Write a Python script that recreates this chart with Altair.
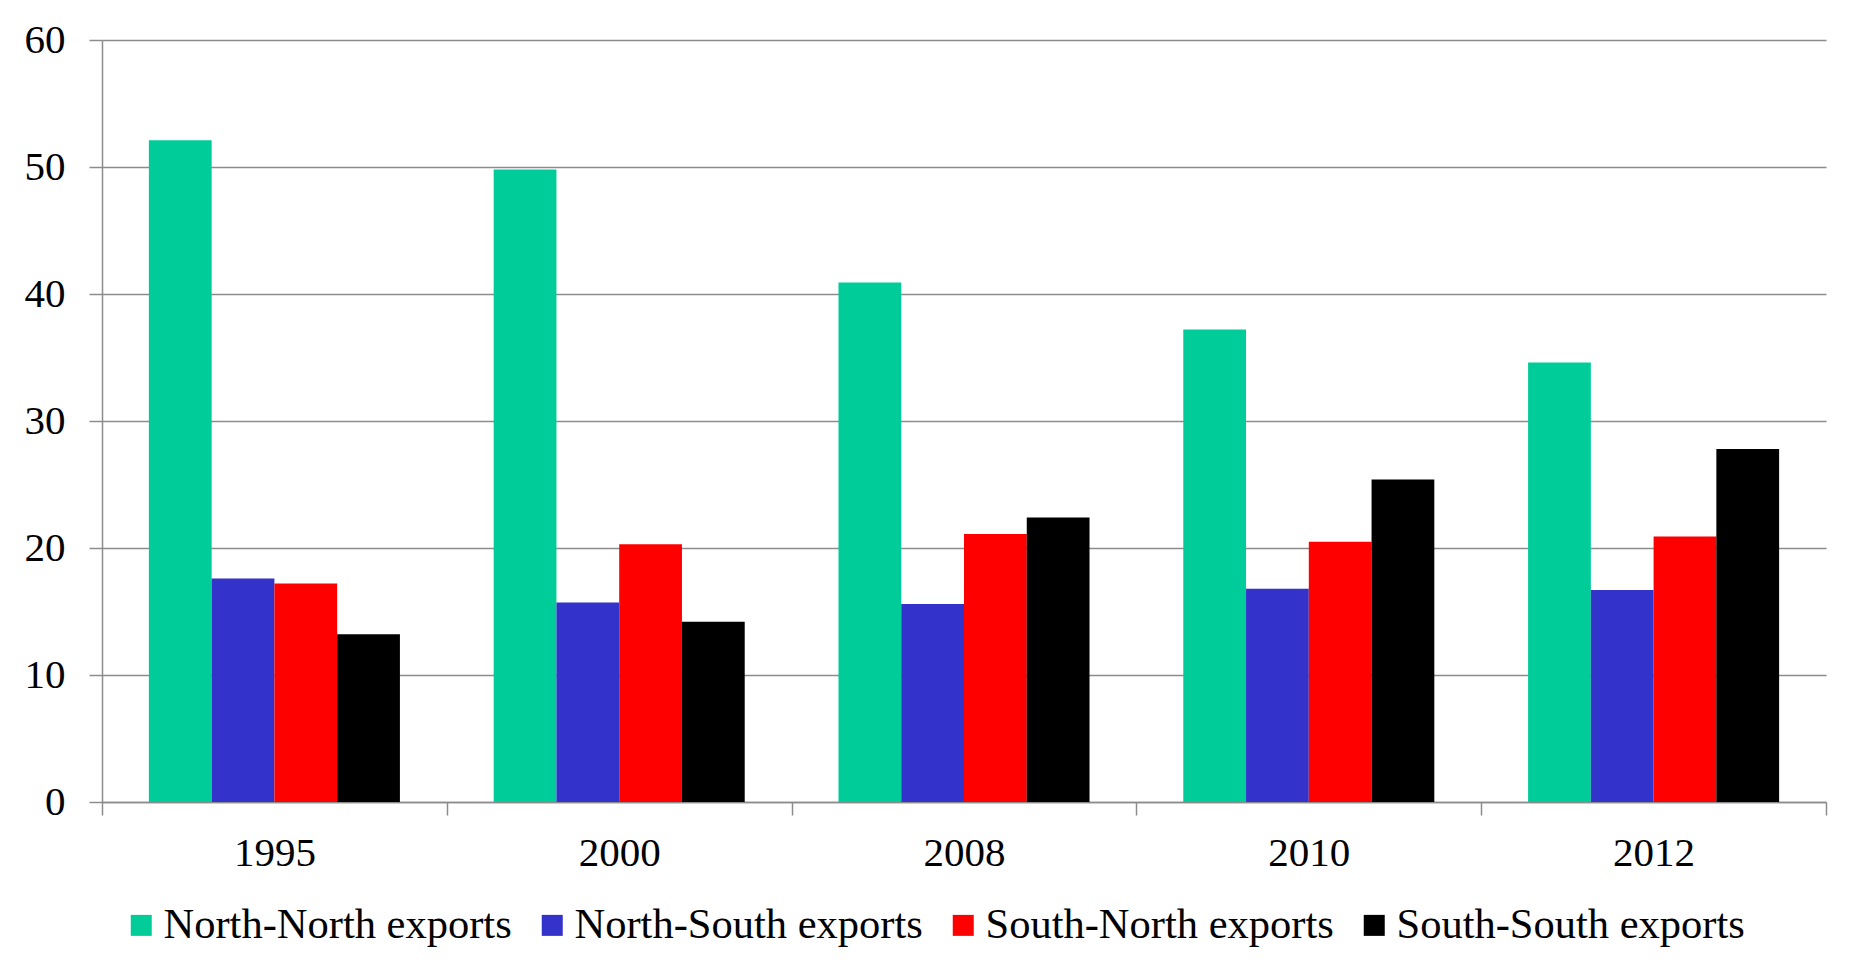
import altair as alt
import pandas as pd

years = ["1995", "2000", "2008", "2010", "2012"]
series = ["North-North exports", "North-South exports", "South-North exports", "South-South exports"]
north_north = [52.1, 49.8, 40.9, 37.2, 34.6]
north_south = [17.6, 15.7, 15.6, 16.8, 16.7]
south_north = [17.2, 20.3, 21.1, 20.5, 20.9]
south_south = [13.2, 14.2, 22.4, 25.4, 27.8]
colors = ["#00CC99", "#3333CC", "#FF0000", "#000000"]

rows = []
for vals, s in zip([north_north, north_south, south_north, south_south], series):
    for y, v in zip(years, vals):
        rows.append({"year": y, "series": s, "value": v})
df = pd.DataFrame(rows)

FONT = "Liberation Serif"
GRID = "#8C8C8C"

chart = alt.Chart(df).mark_bar(stroke=None).encode(
    x=alt.X("year:N", sort=years, title=None,
            scale=alt.Scale(paddingInner=0, paddingOuter=0),
            axis=alt.Axis(labelAngle=0, tickBand="extent", tickSize=13, tickColor=GRID,
                          tickWidth=1.5, domainColor=GRID, domainWidth=1.5,
                          labelPadding=18, labelFontSize=41, labelFont=FONT,
                          labelColor="#000000")),
    xOffset=alt.XOffset("series:N", sort=series,
                        scale=alt.Scale(paddingInner=0, paddingOuter=0.747)),
    y=alt.Y("value:Q", title=None,
            scale=alt.Scale(domain=[0, 60], nice=False),
            axis=alt.Axis(values=[0, 10, 20, 30, 40, 50, 60], tickSize=13, tickColor=GRID,
                          tickWidth=1.5, domainColor=GRID, domainWidth=1.5,
                          gridColor=GRID, gridWidth=1.5, grid=True,
                          labelPadding=24, labelFontSize=41, labelFont=FONT,
                          labelColor="#000000")),
    color=alt.Color("series:N", sort=series,
                    scale=alt.Scale(domain=series, range=colors),
                    legend=alt.Legend(title=None, orient="none", direction="horizontal",
                                      columns=4, legendX=18, legendY=864,
                                      symbolType="square", symbolSize=441,
                                      symbolStrokeWidth=0, labelOffset=1,
                                      columnPadding=19,
                                      labelFontSize=42.5, labelFont=FONT,
                                      labelColor="#000000", labelLimit=0)),
).properties(
    width=1724, height=762,
    autosize=alt.AutoSizeParams(type="none"),
    padding={"left": 94, "top": 32, "right": 20, "bottom": 150},
    background="white",
).configure_view(stroke=None)

chart.save("out.html", embed_options={"renderer": "svg", "actions": False})
